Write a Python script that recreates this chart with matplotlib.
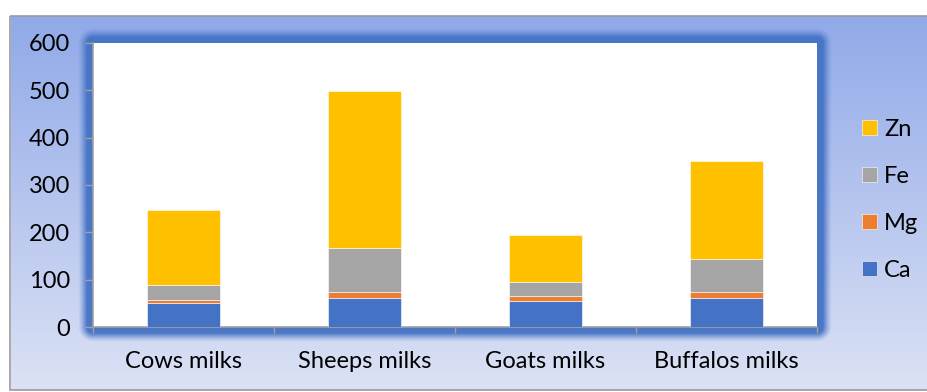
import numpy as np
import matplotlib
matplotlib.use("Agg")
import matplotlib.pyplot as plt
from matplotlib.patches import Rectangle

categories = ["Cows milks", "Sheeps milks", "Goats milks", "Buffalos milks"]
ca = [51, 62, 55, 61]
mg = [7, 13, 10, 13]
fe = [30, 92, 30, 69]
zn = [159, 331, 99, 207]
series_names = ["Ca", "Mg", "Fe", "Zn"]
series_colors = ["#4472C4", "#ED7D31", "#A5A5A5", "#FFC000"]
yticks = [0, 100, 200, 300, 400, 500, 600]

W, H = 927, 392
plt.rcParams['font.family'] = ['Lato', 'DejaVu Sans']
fig = plt.figure(figsize=(W / 100, H / 100), dpi=100)
fig.patch.set_facecolor("white")

# background layer in pixel coords
bg = fig.add_axes([0, 0, 1, 1], zorder=-5)
bg.set_xlim(0, W)
bg.set_ylim(H, 0)
bg.axis("off")

# chart area gradient
x0c, y0c, x1c, y1c = 11, 16, W + 2, 390
top = np.array([0x90, 0xA9, 0xE8]) / 255
bot = np.array([0xDC, 0xE2, 0xF5]) / 255
t = np.linspace(0, 1, 200)[:, None]
grad = (top[None, :] * (1 - t) + bot[None, :] * t)[:, None, :]
grad = np.repeat(grad, 2, axis=1)
bg.imshow(grad, extent=(x0c, x1c, y1c, y0c), aspect="auto", interpolation="bilinear", zorder=0)
bg.add_patch(Rectangle((x0c - 0.5, y0c - 0.5), x1c - x0c, y1c - y0c, fill=False,
                       edgecolor="#9A9A9A", linewidth=1.2, zorder=1))

# glow around plot area
px0, py0, px1, py1 = 93, 43, 817, 327
yy, xx = np.mgrid[0:H, 0:W] + 0.5
dx = np.maximum(np.maximum(px0 - xx, xx - px1), 0)
dy = np.maximum(np.maximum(py0 - yy, yy - py1), 0)
d = np.sqrt(dx ** 2 + dy ** 2)
alpha = np.clip((15 - d) / 9, 0, 1) ** 1.3
glow = np.zeros((H, W, 4))
glow[..., :3] = np.array([0x44, 0x72, 0xC4]) / 255
glow[..., 3] = alpha * 0.95
bg.imshow(glow, extent=(0, W, H, 0), interpolation="bilinear", zorder=2)

ax = fig.add_axes([px0 / W, 1 - py1 / H, (px1 - px0) / W, (py1 - py0) / H])
ax.set_facecolor("white")
x = np.arange(len(categories))
bottom = np.zeros(len(categories))
handles = []
for name, vals, col in zip(series_names, [ca, mg, fe, zn], series_colors):
    b = ax.bar(x, vals, width=0.4, bottom=bottom, color=col, edgecolor="white",
               linewidth=0.4, label=name, zorder=3)
    bottom = bottom + np.array(vals)
    handles.append(b)

fs = 17
ax.set_xlim(-0.5, len(categories) - 0.5)
ax.set_ylim(0, 600)
ax.set_yticks(yticks)
ax.set_yticklabels([str(v) for v in yticks], fontsize=fs, color="black")
ax.set_xticks(x)
ax.set_xticklabels(categories, fontsize=fs, color="black")
ax.set_xticks(np.arange(len(categories) + 1) - 0.5, minor=True)
ax.tick_params(axis="x", which="major", length=0, pad=17)
ax.tick_params(axis="x", which="minor", length=4.5, color="#A0A0A0", width=1, direction="out")
ax.tick_params(axis="y", which="major", length=6, color="#A0A0A0", width=1, pad=10.5, direction="out")
for s in ["top", "right"]:
    ax.spines[s].set_visible(False)
for s in ["left", "bottom"]:
    ax.spines[s].set_color("#A0A0A0")
    ax.spines[s].set_linewidth(1.2)

leg = fig.legend(handles[::-1], series_names[::-1], loc="upper left",
                 bbox_to_anchor=(850 / W, 1 - 107 / H), frameon=False,
                 fontsize=fs, handlelength=0.65, handleheight=0.65,
                 handletextpad=0.3, labelspacing=1.1, borderpad=0)

fig.savefig("out.png", dpi=100)
